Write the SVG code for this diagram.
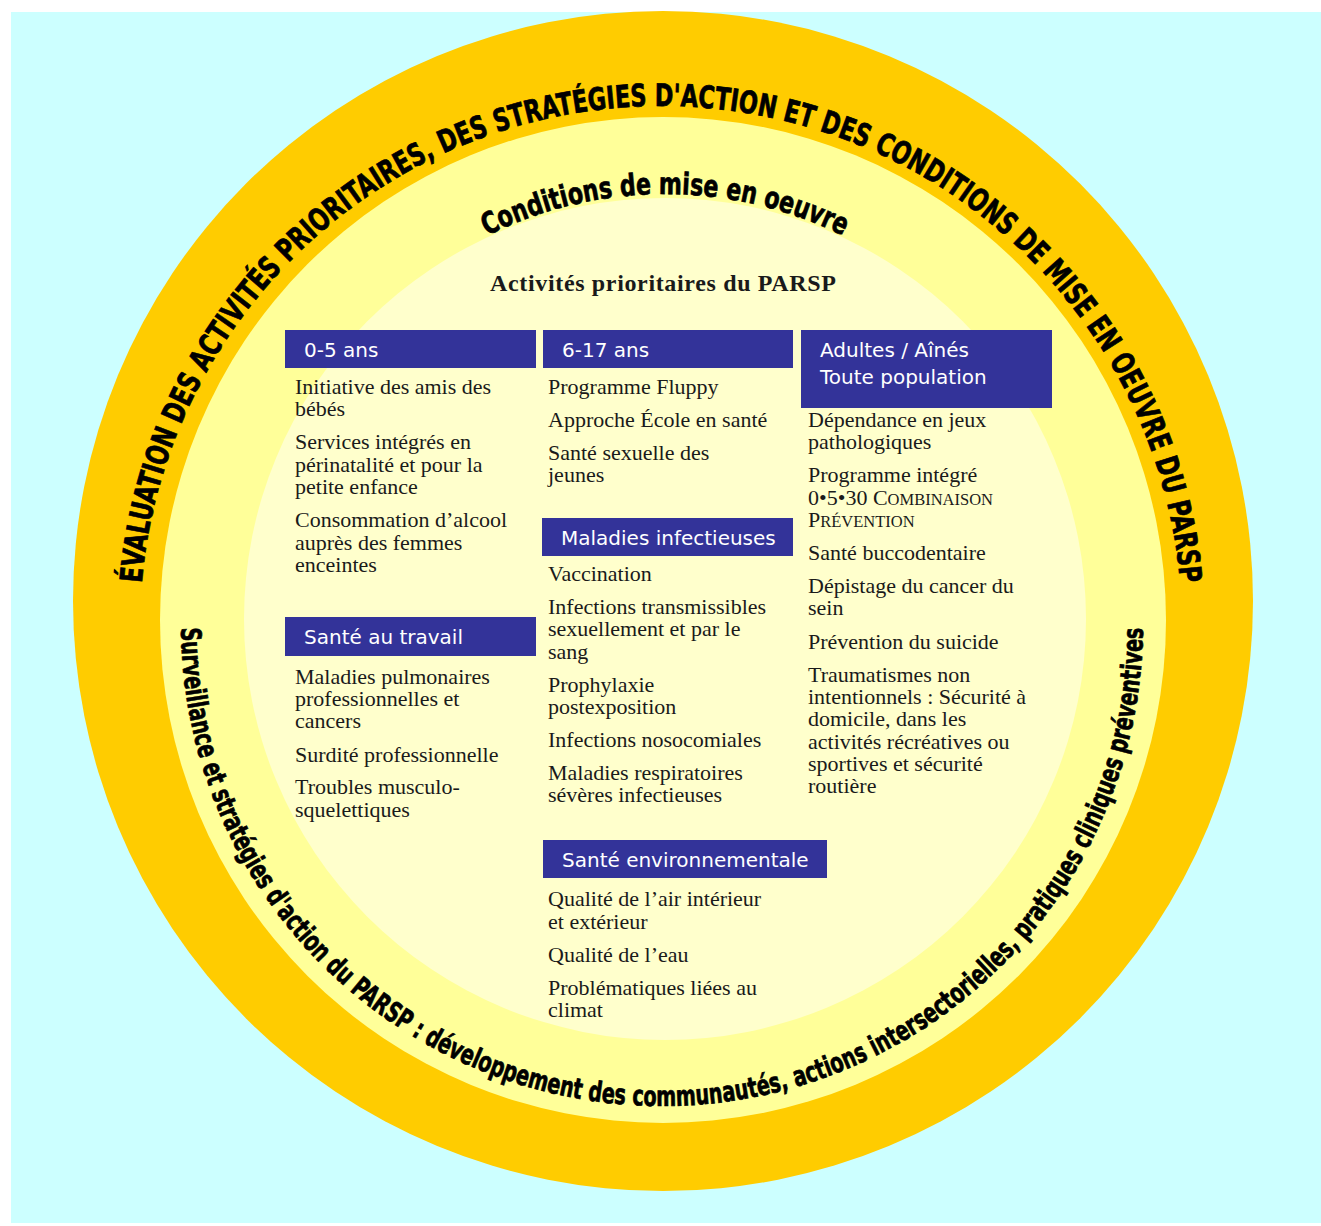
<svg xmlns="http://www.w3.org/2000/svg" width="1321" height="1226" viewBox="0 0 1321 1226">
<defs>
<path id="arcOuter" d="M140,627 A521,521 0 0 1 1182,627"/>
<path id="arcCond" d="M265,594 A400,400 0 0 1 1065,594"/>
<path id="arcLower" d="M181,625 A481,481 0 0 0 1143,625"/>
<style>
.ring{font-family:"DejaVu Sans Condensed","DejaVu Sans",sans-serif;font-stretch:condensed;font-weight:bold;fill:#000;stroke:#000;stroke-width:0.7px}
.hdr{fill:#333399}
.ht{font-family:"DejaVu Sans",Verdana,sans-serif;font-size:20px;fill:#fff}
.it{font-family:"Liberation Serif","Times New Roman",serif;font-size:22px;fill:#1a1a1a}
.sc{font-size:16.5px}
.title{font-family:"Liberation Serif","Times New Roman",serif;font-size:24px;font-weight:bold;fill:#1a1a1a}
</style>
</defs>
<g id="background">
<rect x="11" y="12" width="1310" height="1211" fill="#CCFFFF"/>
<circle cx="663" cy="601" r="590" fill="#FFCC00"/>
<circle cx="663" cy="620" r="503" fill="#FFFF99"/>
<circle cx="665" cy="619" r="421" fill="#FFFFCC"/>
</g>
<g id="ring-evaluation">
<text class="ring" font-size="31"><textPath href="#arcOuter" startOffset="50%" text-anchor="middle" textLength="1549" lengthAdjust="spacingAndGlyphs">ÉVALUATION DES ACTIVITÉS PRIORITAIRES, DES STRATÉGIES D'ACTION ET DES CONDITIONS DE MISE EN OEUVRE DU PARSP</textPath></text>
</g>
<g id="ring-conditions">
<text class="ring" font-size="30"><textPath href="#arcCond" startOffset="50%" text-anchor="middle" textLength="369" lengthAdjust="spacingAndGlyphs">Conditions de mise en oeuvre</textPath></text>
</g>
<g id="ring-surveillance">
<text class="ring" font-size="28"><textPath href="#arcLower" startOffset="50%" text-anchor="middle" textLength="1505" lengthAdjust="spacingAndGlyphs">Surveillance et stratégies d'action du PARSP : développement des communautés, actions intersectorielles, pratiques cliniques préventives</textPath></text>
</g>
<g id="title">
<text class="title" x="663" y="291" text-anchor="middle" textLength="346" lengthAdjust="spacing">Activités prioritaires du PARSP</text>
</g>
<g id="node-0-5">
<rect class="hdr" x="285" y="330" width="251" height="38"/>
<text class="ht" x="304" y="357">0-5 ans</text>
<text class="it" x="295"><tspan x="295" y="394">Initiative des amis des</tspan><tspan x="295" y="416">bébés</tspan><tspan x="295" y="449">Services intégrés en</tspan><tspan x="295" y="472">périnatalité et pour la</tspan><tspan x="295" y="494">petite enfance</tspan><tspan x="295" y="527">Consommation d’alcool</tspan><tspan x="295" y="550">auprès des femmes</tspan><tspan x="295" y="572">enceintes</tspan></text>
</g>
<g id="node-sante-travail">
<rect class="hdr" x="285" y="617" width="251" height="39"/>
<text class="ht" x="304" y="644">Santé au travail</text>
<text class="it"><tspan x="295" y="684">Maladies pulmonaires</tspan><tspan x="295" y="706">professionnelles et</tspan><tspan x="295" y="728">cancers</tspan><tspan x="295" y="762">Surdité professionnelle</tspan><tspan x="295" y="794">Troubles musculo-</tspan><tspan x="295" y="817">squelettiques</tspan></text>
</g>
<g id="node-6-17">
<rect class="hdr" x="543" y="330" width="250" height="38"/>
<text class="ht" x="562" y="357">6-17 ans</text>
<text class="it"><tspan x="548" y="394">Programme Fluppy</tspan><tspan x="548" y="427">Approche École en santé</tspan><tspan x="548" y="460">Santé sexuelle des</tspan><tspan x="548" y="482">jeunes</tspan></text>
</g>
<g id="node-maladies-infectieuses">
<rect class="hdr" x="542" y="518" width="251" height="38"/>
<text class="ht" x="561" y="545">Maladies infectieuses</text>
<text class="it"><tspan x="548" y="581">Vaccination</tspan><tspan x="548" y="614">Infections transmissibles</tspan><tspan x="548" y="636">sexuellement et par le</tspan><tspan x="548" y="659">sang</tspan><tspan x="548" y="692">Prophylaxie</tspan><tspan x="548" y="714">postexposition</tspan><tspan x="548" y="747">Infections nosocomiales</tspan><tspan x="548" y="780">Maladies respiratoires</tspan><tspan x="548" y="802">sévères infectieuses</tspan></text>
</g>
<g id="node-sante-environnementale">
<rect class="hdr" x="543" y="840" width="284" height="38"/>
<text class="ht" x="562" y="867">Santé environnementale</text>
<text class="it"><tspan x="548" y="906">Qualité de l’air intérieur</tspan><tspan x="548" y="929">et extérieur</tspan><tspan x="548" y="962">Qualité de l’eau</tspan><tspan x="548" y="995">Problématiques liées au</tspan><tspan x="548" y="1017">climat</tspan></text>
</g>
<g id="node-adultes">
<rect class="hdr" x="801" y="330" width="251" height="78"/>
<text class="ht"><tspan x="820" y="357">Adultes / Aînés</tspan><tspan x="820" y="384">Toute population</tspan></text>
<text class="it"><tspan x="808" y="427">Dépendance en jeux</tspan><tspan x="808" y="449">pathologiques</tspan><tspan x="808" y="482">Programme intégré</tspan><tspan x="808" y="505">0•5•30 C<tspan class="sc">OMBINAISON</tspan></tspan><tspan x="808" y="527">P<tspan class="sc">RÉVENTION</tspan></tspan><tspan x="808" y="560">Santé buccodentaire</tspan><tspan x="808" y="593">Dépistage du cancer du</tspan><tspan x="808" y="615">sein</tspan><tspan x="808" y="649">Prévention du suicide</tspan><tspan x="808" y="682">Traumatismes non</tspan><tspan x="808" y="704">intentionnels : Sécurité à</tspan><tspan x="808" y="726">domicile, dans les</tspan><tspan x="808" y="749">activités récréatives ou</tspan><tspan x="808" y="771">sportives et sécurité</tspan><tspan x="808" y="793">routière</tspan></text>
</g>
</svg>
